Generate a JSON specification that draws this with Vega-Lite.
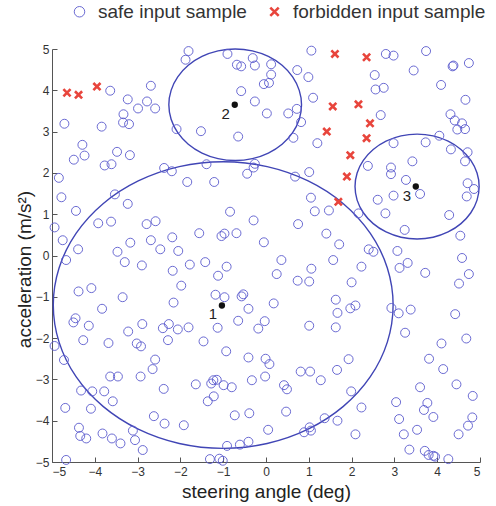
{
  "$schema": "https://vega.github.io/schema/vega-lite/v6.json",
  "width": 428,
  "height": 413,
  "autosize": {"type": "none"},
  "padding": {"left": 52, "top": 49, "right": 16, "bottom": 44},
  "background": "white",
  "config": {
    "view": {"stroke": null},
    "font": "Liberation Sans",
    "axis": {
      "grid": false,
      "domainColor": "#555555",
      "tickColor": "#555555",
      "tickSize": -5,
      "labelFontSize": 12,
      "labelColor": "#333333",
      "titleFontSize": 19,
      "titleFontWeight": "normal",
      "titleColor": "#222222",
      "values": [-5, -4, -3, -2, -1, 0, 1, 2, 3, 4, 5]
    }
  },
  "datasets": {
    "ellipses": [
      {"e": 1, "i": 0, "x": 2.97, "y": -1.2}, {"e": 1, "i": 1, "x": 2.835, "y": -0.302}, {"e": 1, "i": 2, "x": 2.438, "y": 0.535}, {"e": 1, "i": 3, "x": 1.807, "y": 1.254}, {"e": 1, "i": 4, "x": 0.985, "y": 1.805}, {"e": 1, "i": 5, "x": 0.027, "y": 2.152}, {"e": 1, "i": 6, "x": -1.0, "y": 2.27}, {"e": 1, "i": 7, "x": -2.027, "y": 2.152}, {"e": 1, "i": 8, "x": -2.985, "y": 1.805}, {"e": 1, "i": 9, "x": -3.807, "y": 1.254}, {"e": 1, "i": 10, "x": -4.438, "y": 0.535}, {"e": 1, "i": 11, "x": -4.835, "y": -0.302}, {"e": 1, "i": 12, "x": -4.97, "y": -1.2}, {"e": 1, "i": 13, "x": -4.835, "y": -2.098}, {"e": 1, "i": 14, "x": -4.438, "y": -2.935}, {"e": 1, "i": 15, "x": -3.807, "y": -3.654}, {"e": 1, "i": 16, "x": -2.985, "y": -4.205}, {"e": 1, "i": 17, "x": -2.027, "y": -4.552}, {"e": 1, "i": 18, "x": -1.0, "y": -4.67}, {"e": 1, "i": 19, "x": 0.027, "y": -4.552}, {"e": 1, "i": 20, "x": 0.985, "y": -4.205}, {"e": 1, "i": 21, "x": 1.807, "y": -3.654}, {"e": 1, "i": 22, "x": 2.438, "y": -2.935}, {"e": 1, "i": 23, "x": 2.835, "y": -2.098},
      {"e": 2, "i": 0, "x": 0.83, "y": 3.65}, {"e": 2, "i": 1, "x": 0.777, "y": 3.999}, {"e": 2, "i": 2, "x": 0.622, "y": 4.325}, {"e": 2, "i": 3, "x": 0.376, "y": 4.605}, {"e": 2, "i": 4, "x": 0.055, "y": 4.819}, {"e": 2, "i": 5, "x": -0.319, "y": 4.954}, {"e": 2, "i": 6, "x": -0.72, "y": 5.0}, {"e": 2, "i": 7, "x": -1.121, "y": 4.954}, {"e": 2, "i": 8, "x": -1.495, "y": 4.819}, {"e": 2, "i": 9, "x": -1.816, "y": 4.605}, {"e": 2, "i": 10, "x": -2.062, "y": 4.325}, {"e": 2, "i": 11, "x": -2.217, "y": 3.999}, {"e": 2, "i": 12, "x": -2.27, "y": 3.65}, {"e": 2, "i": 13, "x": -2.217, "y": 3.301}, {"e": 2, "i": 14, "x": -2.062, "y": 2.975}, {"e": 2, "i": 15, "x": -1.816, "y": 2.695}, {"e": 2, "i": 16, "x": -1.495, "y": 2.481}, {"e": 2, "i": 17, "x": -1.121, "y": 2.346}, {"e": 2, "i": 18, "x": -0.72, "y": 2.3}, {"e": 2, "i": 19, "x": -0.319, "y": 2.346}, {"e": 2, "i": 20, "x": 0.055, "y": 2.481}, {"e": 2, "i": 21, "x": 0.376, "y": 2.695}, {"e": 2, "i": 22, "x": 0.622, "y": 2.975}, {"e": 2, "i": 23, "x": 0.777, "y": 3.301},
      {"e": 3, "i": 0, "x": 4.98, "y": 1.67}, {"e": 3, "i": 1, "x": 4.931, "y": 1.999}, {"e": 3, "i": 2, "x": 4.786, "y": 2.305}, {"e": 3, "i": 3, "x": 4.555, "y": 2.568}, {"e": 3, "i": 4, "x": 4.255, "y": 2.77}, {"e": 3, "i": 5, "x": 3.905, "y": 2.897}, {"e": 3, "i": 6, "x": 3.53, "y": 2.94}, {"e": 3, "i": 7, "x": 3.155, "y": 2.897}, {"e": 3, "i": 8, "x": 2.805, "y": 2.77}, {"e": 3, "i": 9, "x": 2.505, "y": 2.568}, {"e": 3, "i": 10, "x": 2.274, "y": 2.305}, {"e": 3, "i": 11, "x": 2.129, "y": 1.999}, {"e": 3, "i": 12, "x": 2.08, "y": 1.67}, {"e": 3, "i": 13, "x": 2.129, "y": 1.341}, {"e": 3, "i": 14, "x": 2.274, "y": 1.035}, {"e": 3, "i": 15, "x": 2.505, "y": 0.772}, {"e": 3, "i": 16, "x": 2.805, "y": 0.57}, {"e": 3, "i": 17, "x": 3.155, "y": 0.443}, {"e": 3, "i": 18, "x": 3.53, "y": 0.4}, {"e": 3, "i": 19, "x": 3.905, "y": 0.443}, {"e": 3, "i": 20, "x": 4.255, "y": 0.57}, {"e": 3, "i": 21, "x": 4.555, "y": 0.772}, {"e": 3, "i": 22, "x": 4.786, "y": 1.035}, {"e": 3, "i": 23, "x": 4.931, "y": 1.341}
    ],
    "centers": [
      {"label": "1", "x": -1.03, "y": -1.21},
      {"label": "2", "x": -0.73, "y": 3.65},
      {"label": "3", "x": 3.5, "y": 1.67}
    ],
    "samples": [
      {"g": "f", "x": -4.65, "y": 3.94}, {"g": "f", "x": -4.38, "y": 3.89}, {"g": "f", "x": -3.95, "y": 4.09},
      {"g": "f", "x": 1.61, "y": 4.88}, {"g": "f", "x": 2.35, "y": 4.8}, {"g": "f", "x": 1.56, "y": 3.61}, {"g": "f", "x": 2.16, "y": 3.66}, {"g": "f", "x": 2.43, "y": 3.2}, {"g": "f", "x": 1.42, "y": 3.0}, {"g": "f", "x": 2.35, "y": 2.84}, {"g": "f", "x": 1.97, "y": 2.43}, {"g": "f", "x": 1.89, "y": 1.91}, {"g": "f", "x": 1.69, "y": 1.3},
      {"g": "s", "x": -1.81, "y": 4.95}, {"g": "s", "x": -1.88, "y": 4.74}, {"g": "s", "x": -3.64, "y": 3.99}, {"g": "s", "x": -2.69, "y": 4.11}, {"g": "s", "x": -3.23, "y": 3.78}, {"g": "s", "x": -2.78, "y": 3.73}, {"g": "s", "x": -2.99, "y": 3.56}, {"g": "s", "x": -2.59, "y": 3.56}, {"g": "s", "x": -3.33, "y": 3.42}, {"g": "s", "x": -3.34, "y": 3.22}, {"g": "s", "x": -3.2, "y": 3.18}, {"g": "s", "x": -4.71, "y": 3.19}, {"g": "s", "x": -3.84, "y": 3.12}, {"g": "s", "x": -2.09, "y": 3.06}, {"g": "s", "x": -4.29, "y": 2.68}, {"g": "s", "x": -4.24, "y": 2.42}, {"g": "s", "x": -4.49, "y": 2.32}, {"g": "s", "x": -3.48, "y": 2.51}, {"g": "s", "x": -3.18, "y": 2.43}, {"g": "s", "x": -3.77, "y": 2.18}, {"g": "s", "x": -3.61, "y": 2.21}, {"g": "s", "x": -2.38, "y": 2.12}, {"g": "s", "x": -2.2, "y": 2.04}, {"g": "s", "x": -1.84, "y": 1.78}, {"g": "s", "x": -4.84, "y": 1.88}, {"g": "s", "x": -4.78, "y": 1.41}, {"g": "s", "x": -3.53, "y": 1.48}, {"g": "s", "x": -3.23, "y": 1.25}, {"g": "s", "x": -4.44, "y": 1.08}, {"g": "s", "x": -3.92, "y": 0.78}, {"g": "s", "x": -3.62, "y": 0.82}, {"g": "s", "x": -2.79, "y": 0.76}, {"g": "s", "x": -2.58, "y": 0.83}, {"g": "s", "x": -4.94, "y": 0.68}, {"g": "s", "x": -4.75, "y": 0.37}, {"g": "s", "x": -3.17, "y": 0.31}, {"g": "s", "x": -2.69, "y": 0.37}, {"g": "s", "x": -2.19, "y": 0.44}, {"g": "s", "x": -4.39, "y": 0.15}, {"g": "s", "x": -3.47, "y": 0.09}, {"g": "s", "x": -2.47, "y": 0.15}, {"g": "s", "x": -2.05, "y": 0.11},
      {"g": "s", "x": -0.9, "y": 4.88}, {"g": "s", "x": -0.31, "y": 4.78}, {"g": "s", "x": -0.68, "y": 4.62}, {"g": "s", "x": -0.58, "y": 4.58}, {"g": "s", "x": -0.26, "y": 4.6}, {"g": "s", "x": 0.12, "y": 4.63}, {"g": "s", "x": 0.12, "y": 4.38}, {"g": "s", "x": -0.05, "y": 4.15}, {"g": "s", "x": 0.07, "y": 4.18}, {"g": "s", "x": -0.58, "y": 3.98}, {"g": "s", "x": -0.26, "y": 3.73}, {"g": "s", "x": 0.73, "y": 4.49}, {"g": "s", "x": 0.99, "y": 4.32}, {"g": "s", "x": 1.06, "y": 4.96}, {"g": "s", "x": 1.1, "y": 3.82}, {"g": "s", "x": 0.02, "y": 3.44}, {"g": "s", "x": 0.52, "y": 3.44}, {"g": "s", "x": 0.72, "y": 3.55}, {"g": "s", "x": 0.82, "y": 3.23}, {"g": "s", "x": 0.64, "y": 2.85}, {"g": "s", "x": 1.2, "y": 2.72}, {"g": "s", "x": -1.52, "y": 3.01}, {"g": "s", "x": -0.65, "y": 2.88}, {"g": "s", "x": -1.39, "y": 2.21}, {"g": "s", "x": -0.26, "y": 2.22}, {"g": "s", "x": -0.29, "y": 2.13}, {"g": "s", "x": -0.44, "y": 1.98}, {"g": "s", "x": -1.21, "y": 1.78}, {"g": "s", "x": 0.68, "y": 1.91}, {"g": "s", "x": 1.01, "y": 2.02}, {"g": "s", "x": 1.05, "y": 1.4}, {"g": "s", "x": 1.14, "y": 1.07}, {"g": "s", "x": 1.47, "y": 1.09}, {"g": "s", "x": -0.84, "y": 1.06}, {"g": "s", "x": -0.29, "y": 0.85}, {"g": "s", "x": 0.75, "y": 0.76}, {"g": "s", "x": -1.56, "y": 0.54}, {"g": "s", "x": -1.04, "y": 0.47}, {"g": "s", "x": -0.97, "y": 0.53}, {"g": "s", "x": -0.69, "y": 0.54}, {"g": "s", "x": -0.05, "y": 0.32}, {"g": "s", "x": 1.41, "y": 0.53},
      {"g": "s", "x": 2.8, "y": 4.88}, {"g": "s", "x": 2.98, "y": 4.84}, {"g": "s", "x": 3.74, "y": 4.95}, {"g": "s", "x": 2.54, "y": 4.37}, {"g": "s", "x": 3.45, "y": 4.48}, {"g": "s", "x": 4.36, "y": 4.58}, {"g": "s", "x": 4.38, "y": 4.6}, {"g": "s", "x": 4.74, "y": 4.66}, {"g": "s", "x": 2.56, "y": 4.02}, {"g": "s", "x": 2.75, "y": 4.06}, {"g": "s", "x": 4.09, "y": 4.13}, {"g": "s", "x": 4.66, "y": 3.77}, {"g": "s", "x": 2.68, "y": 3.4}, {"g": "s", "x": 4.31, "y": 3.42}, {"g": "s", "x": 4.41, "y": 3.27}, {"g": "s", "x": 4.58, "y": 3.2}, {"g": "s", "x": 4.47, "y": 3.05}, {"g": "s", "x": 4.65, "y": 3.06}, {"g": "s", "x": 4.05, "y": 2.9}, {"g": "s", "x": 2.98, "y": 2.72}, {"g": "s", "x": 3.73, "y": 2.74}, {"g": "s", "x": 4.32, "y": 2.57}, {"g": "s", "x": 4.71, "y": 2.5}, {"g": "s", "x": 4.65, "y": 2.28}, {"g": "s", "x": 3.42, "y": 2.28}, {"g": "s", "x": 2.38, "y": 2.17}, {"g": "s", "x": 2.92, "y": 2.13}, {"g": "s", "x": 2.92, "y": 1.97}, {"g": "s", "x": 3.27, "y": 1.83}, {"g": "s", "x": 3.6, "y": 1.49}, {"g": "s", "x": 2.98, "y": 1.45}, {"g": "s", "x": 2.61, "y": 1.35}, {"g": "s", "x": 4.71, "y": 1.75}, {"g": "s", "x": 4.86, "y": 1.61}, {"g": "s", "x": 4.69, "y": 1.43}, {"g": "s", "x": 2.79, "y": 1.02}, {"g": "s", "x": 2.16, "y": 1.02}, {"g": "s", "x": 4.28, "y": 0.98}, {"g": "s", "x": 3.24, "y": 0.62}, {"g": "s", "x": 4.54, "y": 0.48}, {"g": "s", "x": 1.71, "y": 0.27}, {"g": "s", "x": 2.4, "y": 0.15}, {"g": "s", "x": 2.51, "y": 0.09}, {"g": "s", "x": 3.07, "y": 0.11},
      {"g": "s", "x": -4.67, "y": -0.11}, {"g": "s", "x": -3.3, "y": -0.16}, {"g": "s", "x": -2.9, "y": -0.24}, {"g": "s", "x": -2.18, "y": -0.37}, {"g": "s", "x": -1.78, "y": -0.22}, {"g": "s", "x": -1.98, "y": -0.73}, {"g": "s", "x": -4.38, "y": -0.87}, {"g": "s", "x": -4.08, "y": -0.79}, {"g": "s", "x": -3.35, "y": -1.01}, {"g": "s", "x": -2.16, "y": -1.14}, {"g": "s", "x": -3.83, "y": -1.29}, {"g": "s", "x": -4.45, "y": -1.52}, {"g": "s", "x": -4.5, "y": -1.62}, {"g": "s", "x": -4.14, "y": -1.7}, {"g": "s", "x": -2.89, "y": -1.66}, {"g": "s", "x": -3.22, "y": -1.84}, {"g": "s", "x": -2.41, "y": -1.76}, {"g": "s", "x": -2.27, "y": -1.66}, {"g": "s", "x": -2.06, "y": -1.79}, {"g": "s", "x": -1.81, "y": -1.74}, {"g": "s", "x": -4.27, "y": -2.05}, {"g": "s", "x": -3.68, "y": -2.12}, {"g": "s", "x": -3.02, "y": -2.13}, {"g": "s", "x": -2.92, "y": -2.2}, {"g": "s", "x": -2.29, "y": -2.05}, {"g": "s", "x": -4.94, "y": -2.19}, {"g": "s", "x": -4.72, "y": -2.53}, {"g": "s", "x": -2.59, "y": -2.52}, {"g": "s", "x": -2.65, "y": -2.75}, {"g": "s", "x": -3.64, "y": -2.93}, {"g": "s", "x": -3.46, "y": -2.93}, {"g": "s", "x": -2.93, "y": -2.93}, {"g": "s", "x": -4.32, "y": -3.27}, {"g": "s", "x": -4.06, "y": -3.29}, {"g": "s", "x": -3.78, "y": -3.29}, {"g": "s", "x": -3.58, "y": -3.53}, {"g": "s", "x": -2.39, "y": -3.23}, {"g": "s", "x": -4.69, "y": -3.69}, {"g": "s", "x": -4.09, "y": -3.71}, {"g": "s", "x": -2.62, "y": -3.89}, {"g": "s", "x": -2.37, "y": -4.07}, {"g": "s", "x": -1.92, "y": -4.11}, {"g": "s", "x": -4.37, "y": -4.17}, {"g": "s", "x": -4.34, "y": -4.37}, {"g": "s", "x": -4.2, "y": -4.43}, {"g": "s", "x": -3.82, "y": -4.31}, {"g": "s", "x": -3.6, "y": -4.43}, {"g": "s", "x": -3.4, "y": -4.55}, {"g": "s", "x": -3.11, "y": -4.24}, {"g": "s", "x": -3.06, "y": -4.47}, {"g": "s", "x": -2.88, "y": -4.71}, {"g": "s", "x": -4.67, "y": -4.95},
      {"g": "s", "x": -1.42, "y": -0.16}, {"g": "s", "x": -0.92, "y": -0.27}, {"g": "s", "x": -1.12, "y": -0.49}, {"g": "s", "x": 0.36, "y": -0.11}, {"g": "s", "x": 0.25, "y": -0.45}, {"g": "s", "x": 1.06, "y": -0.32}, {"g": "s", "x": 0.74, "y": -0.61}, {"g": "s", "x": 1.01, "y": -0.63}, {"g": "s", "x": 1.57, "y": -0.11}, {"g": "s", "x": -1.18, "y": -0.95}, {"g": "s", "x": -0.97, "y": -1.01}, {"g": "s", "x": -0.57, "y": -0.99}, {"g": "s", "x": -0.53, "y": -0.94}, {"g": "s", "x": -0.41, "y": -1.29}, {"g": "s", "x": 0.18, "y": -1.16}, {"g": "s", "x": -0.65, "y": -1.58}, {"g": "s", "x": -0.03, "y": -1.59}, {"g": "s", "x": -0.18, "y": -1.77}, {"g": "s", "x": -1.13, "y": -1.75}, {"g": "s", "x": 1.01, "y": -1.7}, {"g": "s", "x": -1.46, "y": -2.08}, {"g": "s", "x": -0.93, "y": -2.32}, {"g": "s", "x": -0.41, "y": -2.47}, {"g": "s", "x": -0.01, "y": -2.5}, {"g": "s", "x": 0.08, "y": -2.63}, {"g": "s", "x": 0.81, "y": -2.81}, {"g": "s", "x": 1.03, "y": -2.81}, {"g": "s", "x": 1.28, "y": -3.02}, {"g": "s", "x": -1.64, "y": -3.12}, {"g": "s", "x": -1.28, "y": -3.1}, {"g": "s", "x": -1.23, "y": -3.02}, {"g": "s", "x": -1.15, "y": -3.01}, {"g": "s", "x": -0.99, "y": -3.14}, {"g": "s", "x": -0.8, "y": -3.19}, {"g": "s", "x": -0.33, "y": -3.02}, {"g": "s", "x": -0.02, "y": -2.93}, {"g": "s", "x": 0.42, "y": -3.14}, {"g": "s", "x": 0.49, "y": -3.24}, {"g": "s", "x": -1.36, "y": -3.53}, {"g": "s", "x": -1.22, "y": -3.41}, {"g": "s", "x": -0.73, "y": -3.87}, {"g": "s", "x": -0.39, "y": -3.82}, {"g": "s", "x": 0.47, "y": -3.78}, {"g": "s", "x": 0.05, "y": -4.22}, {"g": "s", "x": 0.89, "y": -4.28}, {"g": "s", "x": 1.05, "y": -4.24}, {"g": "s", "x": 1.02, "y": -4.16}, {"g": "s", "x": 1.37, "y": -3.94}, {"g": "s", "x": -0.91, "y": -4.61}, {"g": "s", "x": -0.61, "y": -4.58}, {"g": "s", "x": -0.41, "y": -4.51}, {"g": "s", "x": -1.31, "y": -4.93}, {"g": "s", "x": -1.09, "y": -4.92}, {"g": "s", "x": -1.01, "y": -4.97},
      {"g": "s", "x": 2.23, "y": -0.27}, {"g": "s", "x": 3.12, "y": -0.3}, {"g": "s", "x": 3.31, "y": -0.18}, {"g": "s", "x": 3.72, "y": -0.42}, {"g": "s", "x": 4.58, "y": -0.06}, {"g": "s", "x": 4.74, "y": -0.45}, {"g": "s", "x": 4.51, "y": -0.68}, {"g": "s", "x": 2.0, "y": -0.65}, {"g": "s", "x": 1.63, "y": -1.07}, {"g": "s", "x": 1.97, "y": -1.28}, {"g": "s", "x": 2.09, "y": -1.21}, {"g": "s", "x": 1.67, "y": -1.39}, {"g": "s", "x": 2.93, "y": -1.27}, {"g": "s", "x": 3.1, "y": -1.4}, {"g": "s", "x": 3.38, "y": -1.31}, {"g": "s", "x": 4.42, "y": -1.42}, {"g": "s", "x": 1.63, "y": -1.74}, {"g": "s", "x": 3.25, "y": -1.87}, {"g": "s", "x": 4.68, "y": -2.01}, {"g": "s", "x": 4.1, "y": -2.13}, {"g": "s", "x": 1.93, "y": -2.51}, {"g": "s", "x": 3.81, "y": -2.5}, {"g": "s", "x": 4.14, "y": -2.75}, {"g": "s", "x": 1.66, "y": -2.77}, {"g": "s", "x": 3.6, "y": -3.19}, {"g": "s", "x": 4.45, "y": -3.12}, {"g": "s", "x": 4.83, "y": -3.4}, {"g": "s", "x": 1.99, "y": -3.29}, {"g": "s", "x": 2.23, "y": -3.68}, {"g": "s", "x": 3.04, "y": -3.55}, {"g": "s", "x": 3.77, "y": -3.57}, {"g": "s", "x": 3.69, "y": -3.74}, {"g": "s", "x": 3.91, "y": -3.91}, {"g": "s", "x": 3.11, "y": -3.96}, {"g": "s", "x": 1.67, "y": -4.0}, {"g": "s", "x": 4.82, "y": -3.92}, {"g": "s", "x": 4.72, "y": -4.12}, {"g": "s", "x": 4.5, "y": -4.33}, {"g": "s", "x": 3.53, "y": -4.22}, {"g": "s", "x": 3.22, "y": -4.33}, {"g": "s", "x": 2.09, "y": -4.33}, {"g": "s", "x": 3.35, "y": -4.7}, {"g": "s", "x": 3.71, "y": -4.73}, {"g": "s", "x": 3.8, "y": -4.83}, {"g": "s", "x": 3.91, "y": -4.85}, {"g": "s", "x": 3.95, "y": -4.87}, {"g": "s", "x": 4.26, "y": -4.93}
    ]
  },
  "layer": [
    {
      "data": {"name": "ellipses"},
      "mark": {"type": "line", "interpolate": "cardinal-closed", "color": "#4045b5", "strokeWidth": 1.4},
      "encoding": {
        "x": {"field": "x", "type": "quantitative", "scale": {"domain": [-5, 5], "nice": false}, "axis": {"title": "steering angle (deg)", "labelPadding": 9, "titlePadding": 5}},
        "y": {"field": "y", "type": "quantitative", "scale": {"domain": [-5, 5], "nice": false}, "axis": {"title": "acceleration (m/s²)", "labelPadding": 8, "titlePadding": 1, "titleY": 220}},
        "detail": {"field": "e", "type": "nominal"},
        "order": {"field": "i", "type": "quantitative"}
      }
    },
    {
      "data": {"name": "samples"},
      "mark": {"type": "point", "filled": false, "size": 80, "opacity": 1},
      "encoding": {
        "x": {"field": "x", "type": "quantitative"},
        "y": {"field": "y", "type": "quantitative"},
        "color": {"field": "g", "type": "nominal", "scale": {"domain": ["s", "f"], "range": ["#5a5acd", "#e8453c"]}, "legend": {"title": null, "orient": "none", "legendX": 18, "legendY": -47, "direction": "horizontal", "labelFontSize": 19, "labelLimit": 0, "labelColor": "#333333", "symbolSize": 110, "columnPadding": 18, "labelOffset": 9, "labelExpr": "datum.label == 's' ? 'safe input sample' : 'forbidden input sample'"}},
        "shape": {"field": "g", "type": "nominal", "scale": {"domain": ["s", "f"], "range": ["circle", "M-0.8,-0.8L0.8,0.8M0.8,-0.8L-0.8,0.8"]}},
        "strokeWidth": {"field": "g", "type": "nominal", "scale": {"domain": ["s", "f"], "range": [0.9, 2.6]}}
      }
    },
    {
      "data": {"name": "centers"},
      "mark": {"type": "point", "filled": true, "size": 40, "color": "#111111", "opacity": 1},
      "encoding": {
        "x": {"field": "x", "type": "quantitative"},
        "y": {"field": "y", "type": "quantitative"}
      }
    },
    {
      "data": {"name": "centers"},
      "mark": {"type": "text", "dx": -9, "dy": 9, "fontSize": 15, "color": "#222222"},
      "encoding": {
        "x": {"field": "x", "type": "quantitative"},
        "y": {"field": "y", "type": "quantitative"},
        "text": {"field": "label", "type": "nominal"}
      }
    }
  ]
}
